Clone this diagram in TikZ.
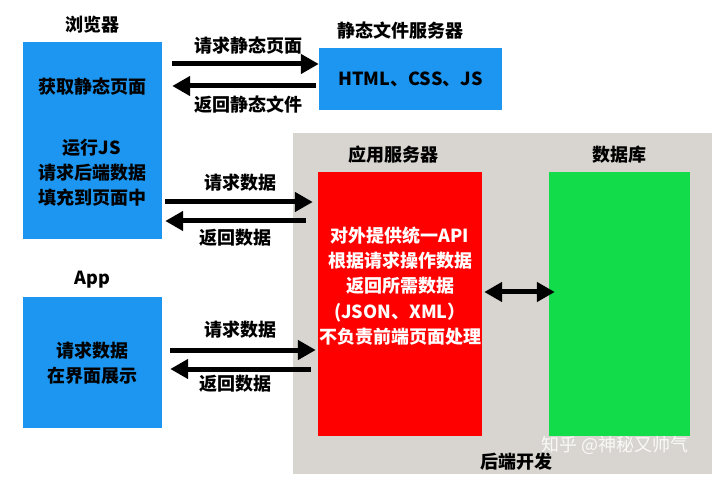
\documentclass[tikz,border=0pt]{standalone}
\usepackage{fontspec}
\setmainfont{Noto Sans CJK SC}
\usetikzlibrary{arrows.meta,positioning}
\definecolor{boxblue}{RGB}{28,150,240}
\definecolor{srvred}{RGB}{255,0,0}
\definecolor{dbgreen}{RGB}{18,220,74}
\definecolor{backgray}{RGB}{216,213,208}

\begin{document}
\begin{tikzpicture}[x=1pt,y=-1pt,>={Triangle[length=18pt,width=19pt]},node distance=8pt,
                font=\fontsize{18}{25.2}\selectfont\bfseries,
                blk/.style={rectangle,inner sep=0pt},
                title/.style={inner sep=0pt},
                txt/.style={align=center,inner sep=0pt},
                fat/.style={line width=5pt}]

                \useasboundingbox (0,0) rectangle (720,478);

                \node[blk,fill=backgray,minimum width=419pt,minimum height=341pt] (backend) at (502.5,303.5) {};

                \node[blk,fill=boxblue,minimum width=139pt,minimum height=197pt] (browser) at (92.5,140.5) {};

                \node[blk,fill=boxblue,minimum width=183pt,minimum height=62pt] (sfs) at (410.5,79) {HTML、CSS、JS};

                \node[blk,fill=srvred,minimum width=164pt,minimum height=264pt] (appsrv) at (400,304) {};

                \node[blk,fill=dbgreen,minimum width=141pt,minimum height=264pt] (db) at (619.5,304) {};

                \node[blk,fill=boxblue,minimum width=139pt,minimum height=131pt] (app) at (92.5,362.5) {};

                

                \node[title] (browsertitle) [above=of browser] {浏览器};

                \node[title] (sfstitle) [above=of sfs,xshift=-10pt] {静态文件服务器};

                \node[title] (appsrvtitle) [above=of appsrv,xshift=-7pt] {应用服务器};

                \node[title] (dbtitle) [above=of db] {数据库};

                \node[title] (apptitle) [above=of app] {App};

                \node[title] (backendtitle) at (516,462) {后端开发};

                

                \node[txt] (browsertxt1) at (92,87) {获取静态页面};

                \node[txt] (browsertxt2) at (92,172.5) {运行JS\\请求后端数据\\填充到页面中};

                \node[txt,text=white] (appsrvtxt) at (400,286) {对外提供统一API\\根据请求操作数据\\返回所需数据\\(JSON、XML）\\不负责前端页面处理};

                \node[txt] (apptxt) at (92,363.5) {请求数据\\在界面展示};

                \node[txt,font=\fontsize{18}{20}\selectfont,text=white,opacity=.85] (mark) at (615,445) {知乎 @神秘又帅气};

                

                \draw[fat,->,shorten <=10pt] (browser.east |- 0,64) -- (sfs.west |- 0,64);

                \draw[fat,->,shorten <=3pt,shorten >=10pt] (sfs.west |- 0,86) -- (browser.east |- 0,86);

                \draw[fat,->,shorten <=3pt,shorten >=5pt] (browser.east |- 0,202) -- (appsrv.west |- 0,202);

                \draw[fat,->,shorten <=12pt,shorten >=3pt] (appsrv.west |- 0,221) -- (browser.east |- 0,221);

                \draw[fat,->,shorten <=8pt,shorten >=2pt] (app.east |- 0,350) -- (appsrv.west |- 0,350);

                \draw[fat,->,shorten <=7pt,shorten >=8pt] (appsrv.west |- 0,369) -- (app.east |- 0,369);

                \draw[fat,<->,shorten <=2pt,shorten >=-6pt] (appsrv.east |- 0,292) -- (db.west |- 0,292);

                

                \node (lreq1) at (248,46) {请求静态页面};

                \node (lret1) at (248,105) {返回静态文件};

                \node (lreq2) at (240,183) {请求数据};

                \node (lret2) at (235,238) {返回数据};

                \node (lreq3) at (240,330) {请求数据};

                \node (lret3) at (235,384) {返回数据};

            \end{tikzpicture}
\end{document}
